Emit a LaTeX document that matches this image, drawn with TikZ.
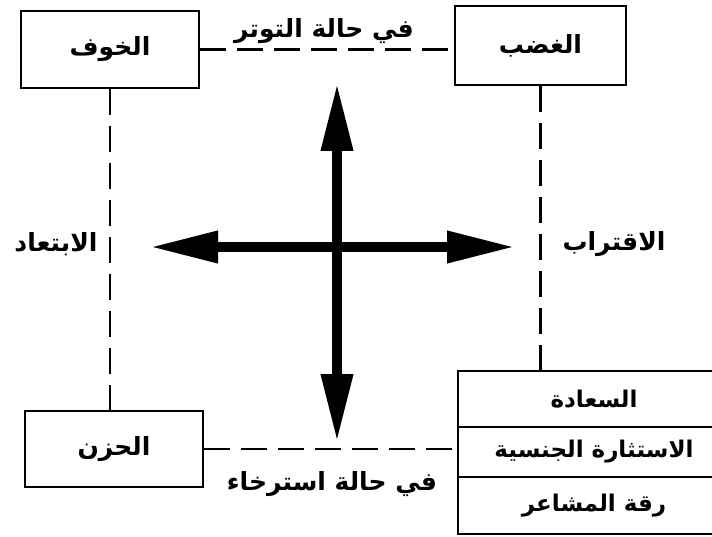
\documentclass[tikz,border=0pt]{standalone}
\usepackage{fontspec}
\newfontfamily\arabicfont[Script=Arabic]{DejaVu Sans}
\TeXXeTstate=1
\usetikzlibrary{arrows.meta,positioning}
\begin{document}
\begin{tikzpicture}[x=1pt,y=-1pt,
    box/.style={draw,line width=2.5pt,font=\arabicfont\bfseries\fontsize{25}{29}\selectfont,inner sep=0pt},
    row/.style={box,minimum width=272pt,font=\arabicfont\bfseries\fontsize{23}{27}\selectfont},
    link/.style={line width=2.2pt,dash pattern=on 26pt off 11pt},
    lbl/.style={font=\arabicfont\bfseries\fontsize{25}{29}\selectfont,inner sep=0pt},
    bigarrow/.style={line width=10pt,{Triangle[length=68pt,width=30pt]}-{Triangle[length=68pt,width=30pt]}}]
\useasboundingbox (0,0) rectangle (712,537);
\node[box,minimum width=178pt,minimum height=77pt] (fear) at (110,49.5) {\beginR الخوف\endR};
\node[box,minimum width=171pt,minimum height=79pt] (anger) at (540.5,45.5) {\beginR الغضب\endR};
\node[box,minimum width=178pt,minimum height=76pt] (sadness) at (114,449) {\beginR الحزن\endR};
\node[row,minimum height=56pt] (joy) at (594,399) {\beginR السعادة\endR};
\node[row,minimum height=50pt,below=-2.5pt of joy] (arousal) {\beginR الاستثارة الجنسية\endR};
\node[row,minimum height=57pt,below=-2.5pt of arousal] (tender) {\beginR رقة المشاعر\endR};
\draw[link] (fear.east) -- (anger.west |- fear.east);
\draw[link] (sadness.east) -- (sadness.east -| joy.west);
\draw[link] (fear.south) -- (fear.south |- sadness.north);
\draw[link] (anger.south) -- (anger.south |- joy.north);
\node[lbl] (tension) at (324,31) {\beginR في حالة التوتر\endR};
\node[lbl] (relax) at (332,484) {\beginR في حالة استرخاء\endR};
\node[lbl] (away) at (56,244) {\beginR الابتعاد\endR};
\node[lbl] (toward) at (614,244) {\beginR الاقتراب\endR};
\coordinate (top) at (337,83);
\coordinate (bottom) at (337,442);
\coordinate (left) at (150,247);
\coordinate (right) at (515,247);
\draw[bigarrow] (bottom) -- (top);
\draw[bigarrow] (left) -- (right);
\end{tikzpicture}
\end{document}
